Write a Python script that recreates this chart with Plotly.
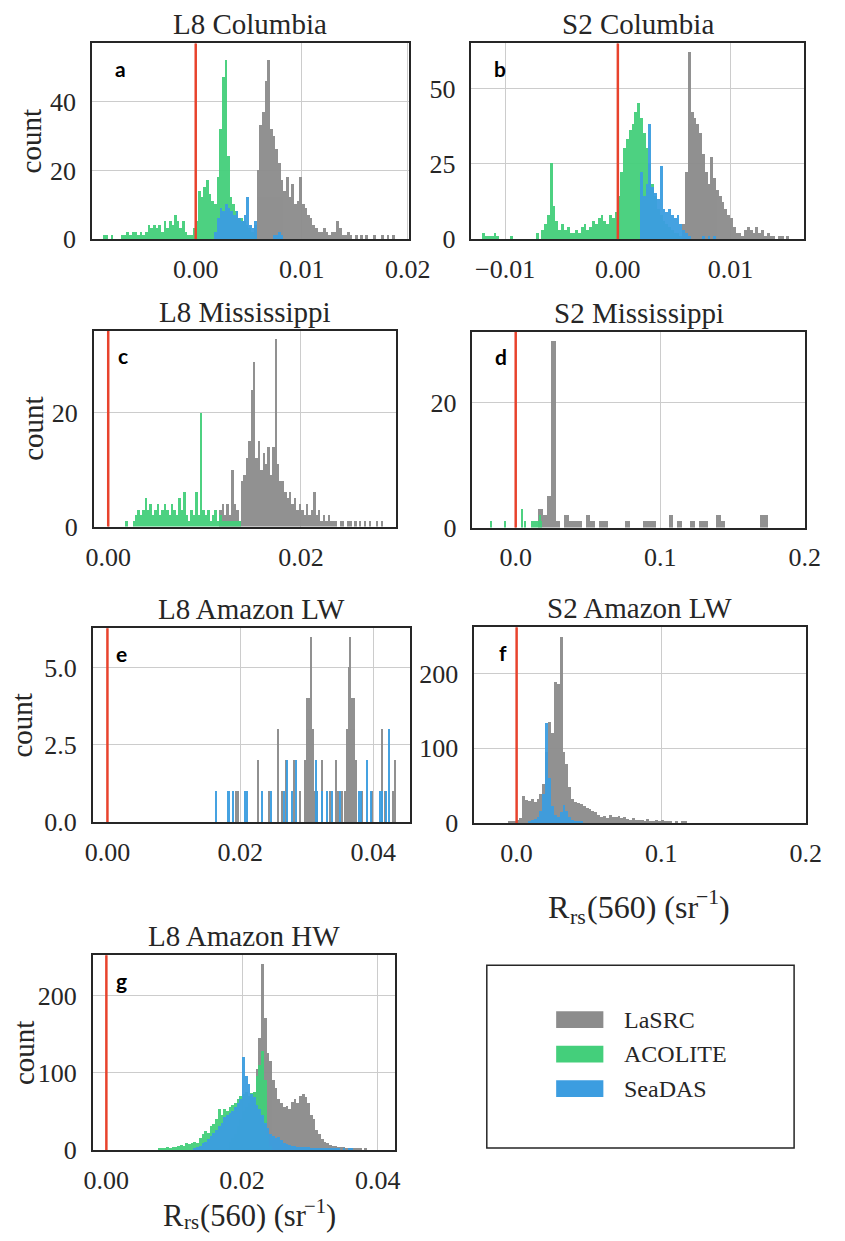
import plotly.graph_objects as go

FIG_W, FIG_H = 845, 1241
C_LASRC = "#8c8c8c"
C_ACOLITE = "#44cf7b"
C_SEADAS = "#3c9de0"
C_ZERO = "#e8432d"
SERIF = "Liberation Serif, Times New Roman, serif"
TXT = "#262626"

SERIES_NAMES = ["LaSRC", "ACOLITE", "SeaDAS"]
SERIES_COLORS = [C_LASRC, C_ACOLITE, C_SEADAS]

# ---------------- data (histogram counts) ----------------
# a: L8 Columbia  (bin width 0.00025)
a_bin = 0.00025
a_lasrc_start = 0.0055
a_lasrc = [4, 20, 33, 37, 46, 52, 32, 30, 26, 22, 17, 14, 18, 12, 16, 10, 11, 18, 10, 9,
           7, 6, 4, 3, 2, 2, 3, 2, 1, 2, 2, 5, 3, 1, 1, 2, 1, 0, 1, 0, 1, 0, 1, 0, 0, 1,
           0, 0, 1, 0, 1, 0, 1]
a_acolite_start = -0.0088
a_acolite = [1, 1, 0, 1, 0, 0, 0, 1, 1, 2, 1, 2, 2, 1, 2, 1, 2, 4, 3, 4, 3, 4, 2, 5, 3, 5,
             4, 7, 5, 3, 5, 2, 1, 1, 3, 5, 14, 12, 15, 17, 13, 11, 10, 18, 32, 47, 52, 24,
             12, 10, 8, 6, 6, 5, 4, 3, 2, 1]
a_seadas_start = 0.00175
a_seadas = [2, 6, 9, 8, 10, 9, 8, 7, 8, 6, 5, 7, 12, 4, 3, 5, 0, 0, 0, 0, 0, 0, 1, 1, 2, 1]

# b: S2 Columbia  (bin width 0.00025)
b_bin = 0.00025
b_lasrc_start = 0.00575
b_lasrc = [5, 22, 62, 42, 40, 38, 35, 28, 22, 18, 27, 20, 16, 14, 12, 10, 8, 7, 4, 2, 2, 1,
           3, 4, 3, 2, 4, 2, 3, 1, 2, 1, 1, 0, 1, 1, 0, 1]
b_acolite_start = -0.012
b_acolite = [2, 1, 1, 1, 2, 1, 0, 0, 0, 0, 1, 0, 0, 0, 0, 0, 0, 0, 0, 2, 0, 3, 5, 8, 25, 11,
             6, 3, 5, 3, 4, 2, 2, 3, 2, 4, 5, 3, 4, 6, 5, 7, 8, 6, 5, 8, 7, 9, 14, 22, 30,
             33, 36, 38, 42, 45, 40, 35, 30, 25, 18, 14, 10, 8, 6, 5, 4, 3, 2, 2, 1]
b_seadas_start = 0.002
b_seadas = [22, 14, 18, 38, 17, 15, 13, 24, 10, 9, 10, 8, 7, 8, 5, 3, 2, 1, 0, 0, 0, 0, 1,
            0, 1, 0, 1]

# c: L8 Mississippi  (bin width 0.00025)
c_bin = 0.00025
c_lasrc_start = 0.0115
c_lasrc = [3, 4, 2, 4, 2, 10, 4, 3, 1, 8, 9, 12, 15, 24, 29, 12, 15, 10, 13, 11, 14, 9, 14,
           33, 11, 8, 8, 6, 5, 6, 4, 5, 3, 4, 3, 2, 4, 2, 3, 6, 2, 3, 1, 2, 1, 2, 1, 1, 1,
           0, 1, 1, 0, 1, 1, 0, 1, 0, 1, 0, 1, 0, 1, 0, 0, 1, 0, 1]
c_acolite_start = 0.00175
c_acolite = [1, 0, 0, 1, 2, 3, 2, 3, 5, 3, 4, 2, 3, 4, 2, 3, 4, 3, 2, 4, 3, 2, 5, 3, 6, 2,
             1, 3, 2, 6, 2, 20, 3, 2, 3, 1, 2, 3, 1, 2, 1, 1, 1, 1, 1, 1, 1, 1]

# d: S2 Mississippi
d_bin = 0.003
d_lasrc_start = 0.016
d_lasrc = [3, 2, 5, 30, 1, 0, 2, 1, 1, 1, 0, 2, 1, 0, 1, 1, 0, 0, 0, 0, 1, 0, 0, 0, 1, 1,
           1, 0, 0, 0, 2, 0, 1, 0, 0, 1, 0, 1, 1, 0, 0, 2, 1, 0, 0, 0, 0, 0, 0, 0, 0, 2, 2]
d_acolite_x = [-0.0167, -0.0069, 0.0049, 0.0065, 0.0115, 0.0125, 0.0135, 0.0145, 0.0155,
               0.0170, 0.0180]
d_acolite = [1, 1, 3, 1, 1, 1, 1, 1, 1, 2, 1]
d_acolite_w = 0.0007

# e: L8 Amazon LW (sparse narrow bins)
e_w = 0.00018
e_lasrc_x = [0.01928, 0.01961, 0.02266, 0.02435, 0.0257, 0.02628, 0.02686, 0.02812, 0.02894,
             0.02976, 0.03005, 0.03034, 0.03058, 0.03087, 0.03121, 0.03159, 0.03232, 0.03353,
             0.0344, 0.03473, 0.03522, 0.0357, 0.03604, 0.03628, 0.03652, 0.03676, 0.03705,
             0.03739, 0.03836, 0.03981, 0.04126, 0.04174, 0.04295, 0.04333]
e_lasrc = [1, 1, 2, 1, 3, 1, 2, 2, 1, 2, 4, 4, 6, 3, 1, 1, 2, 1, 2, 1, 1, 1, 3, 5, 6, 4, 4,
           2, 1, 1, 3, 1, 1, 2]
e_seadas_x = [0.01638, 0.01807, 0.0183, 0.01894, 0.02072, 0.02106, 0.0232, 0.02459, 0.02662,
              0.02696, 0.02783, 0.02836, 0.03135, 0.03159, 0.03232, 0.03304, 0.03386, 0.03498,
              0.03778, 0.03812, 0.03908, 0.03971, 0.04101, 0.04126, 0.04198, 0.04237]
e_seadas = [1, 1, 1, 1, 1, 1, 1, 1, 1, 2, 1, 2, 2, 1, 1, 1, 1, 1, 1, 1, 2, 1, 1, 1, 1, 3]

# f: S2 Amazon LW  (bin width 0.002)
f_bin = 0.002
f_lasrc_start = -0.006
f_lasrc = [1, 2, 2, 3, 6, 36, 30, 29, 31, 28, 32, 38, 52, 95, 135, 120, 188, 185, 248, 95,
           78, 48, 32, 28, 26, 25, 22, 20, 18, 15, 14, 10, 8, 9, 6, 10, 8, 7, 9, 6, 7, 5,
           4, 6, 3, 3, 4, 2, 5, 2, 2, 3, 2, 4, 1, 1, 1, 0, 1, 0, 1, 1]
f_seadas_start = 0.008
f_seadas = [2, 3, 5, 8, 15, 38, 133, 60, 22, 10, 8, 14, 24, 15, 8, 4, 2, 1, 1]

# g: L8 Amazon HW  (bin width 0.0004)
g_bin = 0.0004
g_lasrc_start = 0.0180
g_lasrc = [10, 15, 20, 30, 40, 50, 55, 60, 70, 75, 105, 145, 240, 170, 125, 115, 90, 80,
           65, 60, 55, 57, 52, 62, 65, 60, 70, 72, 68, 60, 45, 40, 25, 20, 14, 10, 8, 6,
           5, 5, 4, 3, 3, 2, 2, 1, 1, 1, 1, 0, 1]
g_acolite_start = 0.0076
g_acolite = [2, 1, 2, 3, 2, 4, 3, 5, 6, 5, 9, 7, 8, 10, 8, 15, 20, 24, 22, 30, 33, 40, 52,
             45, 53, 50, 55, 58, 60, 65, 70, 72, 75, 70, 73, 75, 95, 110, 128, 90, 20, 5]
g_seadas_start = 0.0128
g_seadas = [2, 4, 5, 8, 10, 14, 17, 22, 25, 30, 35, 42, 45, 48, 50, 55, 60, 65, 120, 95,
            85, 72, 68, 58, 52, 45, 35, 28, 20, 18, 15, 16, 12, 9, 7, 6, 5, 5, 4, 4, 3, 3,
            3, 2, 2, 2, 2, 1, 2, 1, 1, 1, 1, 1, 0, 1, 0, 1, 1]

# axis-title pieces: R_rs(560) (sr^-1)
XTITLE_PARTS = [("R", "main"), ("rs", "sub"), ("(560) (sr", "main"), ("\u22121", "sup"),
                (")", "main")]
XTITLE_EM = [0.667, 0.722, 3.471, 1.064, 0.333]   # Times-metric advance widths (em)


def hist(start, width, counts):
    return dict(x0=start + width / 2, dx=width, y=counts, width=width)


def sparse(xs, counts, width):
    return dict(x=xs, y=counts, width=width)


panels = [
    dict(title="L8 Columbia", letter="a", box=(86, 44, 415, 242),
         xr=[-0.0098, 0.0201], xt=[0, 0.01, 0.02], xl=["0.00", "0.01", "0.02"],
         yr=[0, 57], yt=[0, 20, 40], yl=["0", "20", "40"], count_x=23,
         series=[(0, hist(a_lasrc_start, a_bin, a_lasrc)),
                 (1, hist(a_acolite_start, a_bin, a_acolite)),
                 (2, hist(a_seadas_start, a_bin, a_seadas))]),
    dict(title="S2 Columbia", letter="b", box=(480, 44, 825, 242),
         xr=[-0.0130, 0.0165], xt=[-0.01, 0, 0.01], xl=["\u22120.01", "0.00", "0.01"],
         yr=[0, 65], yt=[0, 25, 50], yl=["0", "25", "50"], count_x=None,
         series=[(0, hist(b_lasrc_start, b_bin, b_lasrc)),
                 (1, hist(b_acolite_start, b_bin, b_acolite)),
                 (2, hist(b_seadas_start, b_bin, b_seadas))]),
    dict(title="L8 Mississippi", letter="c", box=(88, 335, 402, 533),
         xr=[-0.0015, 0.0299], xt=[0, 0.02], xl=["0.00", "0.02"],
         yr=[0, 34.4], yt=[0, 20], yl=["0", "20"], count_x=25,
         series=[(0, hist(c_lasrc_start, c_bin, c_lasrc)),
                 (1, hist(c_acolite_start, c_bin, c_acolite))]),
    dict(title="S2 Mississippi", letter="d", box=(481, 336, 826, 534),
         xr=[-0.030, 0.2], xt=[0, 0.1, 0.2], xl=["0.0", "0.1", "0.2"],
         yr=[0, 31.4], yt=[0, 20], yl=["0", "20"], count_x=None,
         series=[(0, hist(d_lasrc_start, d_bin, d_lasrc)),
                 (1, sparse(d_acolite_x, d_acolite, d_acolite_w))]),
    dict(title="L8 Amazon LW", letter="e", box=(87, 636, 416, 832),
         xr=[-0.0022, 0.0455], xt=[0, 0.02, 0.04], xl=["0.00", "0.02", "0.04"],
         yr=[0, 6.28], yt=[0, 2.5, 5.0], yl=["0.0", "2.5", "5.0"], count_x=14,
         series=[(0, sparse(e_lasrc_x, e_lasrc, e_w)),
                 (2, sparse(e_seadas_x, e_seadas, e_w))]),
    dict(title="S2 Amazon LW", letter="f", box=(483, 635, 827, 833),
         xr=[-0.0293, 0.2], xt=[0, 0.1, 0.2], xl=["0.0", "0.1", "0.2"],
         yr=[0, 262], yt=[0, 100, 200], yl=["0", "100", "200"], count_x=None,
         xtitle=dict(cx=654, top=900, size=32, sub_drop=7, sup_rise=13),
         series=[(0, hist(f_lasrc_start, f_bin, f_lasrc)),
                 (2, hist(f_seadas_start, f_bin, f_seadas))]),
    dict(title="L8 Amazon HW", letter="g", box=(87, 967, 401, 1164),
         xr=[-0.002, 0.0426], xt=[0, 0.02, 0.04], xl=["0.00", "0.02", "0.04"],
         yr=[0, 252], yt=[0, 100, 200], yl=["0", "100", "200"], count_x=15,
         xtitle=dict(cx=250, top=1214, size=30.5, sub_drop=3, sup_rise=13),
         series=[(0, hist(g_lasrc_start, g_bin, g_lasrc)),
                 (1, hist(g_acolite_start, g_bin, g_acolite)),
                 (2, hist(g_seadas_start, g_bin, g_seadas))]),
]


def px_x(v):
    return v / FIG_W


def px_y(v):
    return 1 - v / FIG_H


fig = go.Figure()
layout = dict(width=FIG_W, height=FIG_H, margin=dict(l=0, r=0, t=0, b=0),
              paper_bgcolor="white", plot_bgcolor="white", barmode="overlay",
              bargap=0, showlegend=False, shapes=[], annotations=[])

tick_font = dict(family=SERIF, size=26, color=TXT)
for i, p in enumerate(panels):
    k = "" if i == 0 else str(i + 1)
    xname, yname = "x" + k, "y" + k
    x0, y0, x1, y1 = p["box"]
    axis_common = dict(showline=True, linecolor=TXT, linewidth=1.5, mirror=True,
                       showgrid=True, gridcolor="#cccccc", gridwidth=1.3, zeroline=False,
                       ticks="outside", tickcolor="rgba(0,0,0,0)", tickfont=tick_font,
                       fixedrange=True)
    layout["xaxis" + k] = dict(axis_common, domain=[px_x(x0), px_x(x1)], anchor=yname,
                               range=p["xr"], tickvals=p["xt"], ticktext=p["xl"], ticklen=6)
    layout["yaxis" + k] = dict(axis_common, domain=[px_y(y1), px_y(y0)], anchor=xname,
                               range=p["yr"], tickvals=p["yt"], ticktext=p["yl"], ticklen=9)
    for sidx, data in p["series"]:
        fig.add_trace(go.Bar(name=SERIES_NAMES[sidx], marker=dict(color=SERIES_COLORS[sidx],
                             line=dict(width=0)), opacity=0.95, xaxis=xname, yaxis=yname,
                             **data))
    # zero reference line
    layout["shapes"].append(dict(type="line", xref=xname, yref=yname + " domain", x0=0, x1=0,
                                 y0=0, y1=1, line=dict(color=C_ZERO, width=2.5)))
    # title
    layout["annotations"].append(dict(text=p["title"], xref="paper", yref="paper",
                                      x=px_x((x0 + x1) / 2), y=px_y(y0 - 1), xanchor="center",
                                      yanchor="bottom", showarrow=False,
                                      font=dict(family=SERIF, size=29, color=TXT)))
    # panel letter
    layout["annotations"].append(dict(text="<b>%s</b>" % p["letter"], xref="paper", yref="paper",
                                      x=px_x(x0 + 30), y=px_y(y0 + 25), xanchor="center",
                                      yanchor="middle", showarrow=False,
                                      font=dict(family="Lato, Open Sans, sans-serif", size=21,
                                                color="black")))
    if p["count_x"] is not None:
        layout["annotations"].append(dict(text="count", xref="paper", yref="paper",
                                          x=px_x(p["count_x"]), y=px_y((y0 + y1) / 2),
                                          xanchor="center", yanchor="middle", textangle=-90,
                                          showarrow=False,
                                          font=dict(family=SERIF, size=29, color=TXT)))
    xt = p.get("xtitle")
    if xt:
        S = xt["size"]
        small = 0.68 * S
        main_top = xt["top"]
        small_top_main_aligned = main_top + 0.891 * (S - small)   # same baseline as main
        tops = {"main": main_top,
                "sub": small_top_main_aligned + xt["sub_drop"],
                "sup": small_top_main_aligned - xt["sup_rise"]}
        sizes = {"main": S, "sub": small, "sup": small}
        widths = [em * sizes[kind] for (txt, kind), em in zip(XTITLE_PARTS, XTITLE_EM)]
        gap = 1.5
        left = xt["cx"] - (sum(widths) + gap * (len(widths) - 1)) / 2
        for (txt, kind), w in zip(XTITLE_PARTS, widths):
            layout["annotations"].append(dict(
                text=txt, xref="paper", yref="paper", x=px_x(left), y=px_y(tops[kind]),
                xanchor="left", yanchor="top", showarrow=False, borderpad=0, borderwidth=0,
                font=dict(family=SERIF, size=sizes[kind], color=TXT)))
            left += w + gap

# legend box (bottom-right cell)
lx0, ly0, lx1, ly1 = 496, 977, 815, 1162
layout["shapes"].append(dict(type="rect", xref="paper", yref="paper", x0=px_x(lx0), x1=px_x(lx1),
                             y0=px_y(ly1), y1=px_y(ly0), line=dict(color=TXT, width=1.5),
                             fillcolor="rgba(0,0,0,0)"))
for j, (name, col) in enumerate(zip(SERIES_NAMES, SERIES_COLORS)):
    cy = 1032 + 35 * j
    layout["shapes"].append(dict(type="rect", xref="paper", yref="paper", x0=px_x(568),
                                 x1=px_x(617), y0=px_y(cy + 8.5), y1=px_y(cy - 8.5),
                                 line=dict(width=0), fillcolor=col))
    layout["annotations"].append(dict(text=name, xref="paper", yref="paper", x=px_x(636),
                                      y=px_y(cy), xanchor="left", yanchor="middle",
                                      showarrow=False,
                                      font=dict(family=SERIF, size=24, color=TXT)))

fig.update_layout(**layout)
fig.write_html("out.html")
